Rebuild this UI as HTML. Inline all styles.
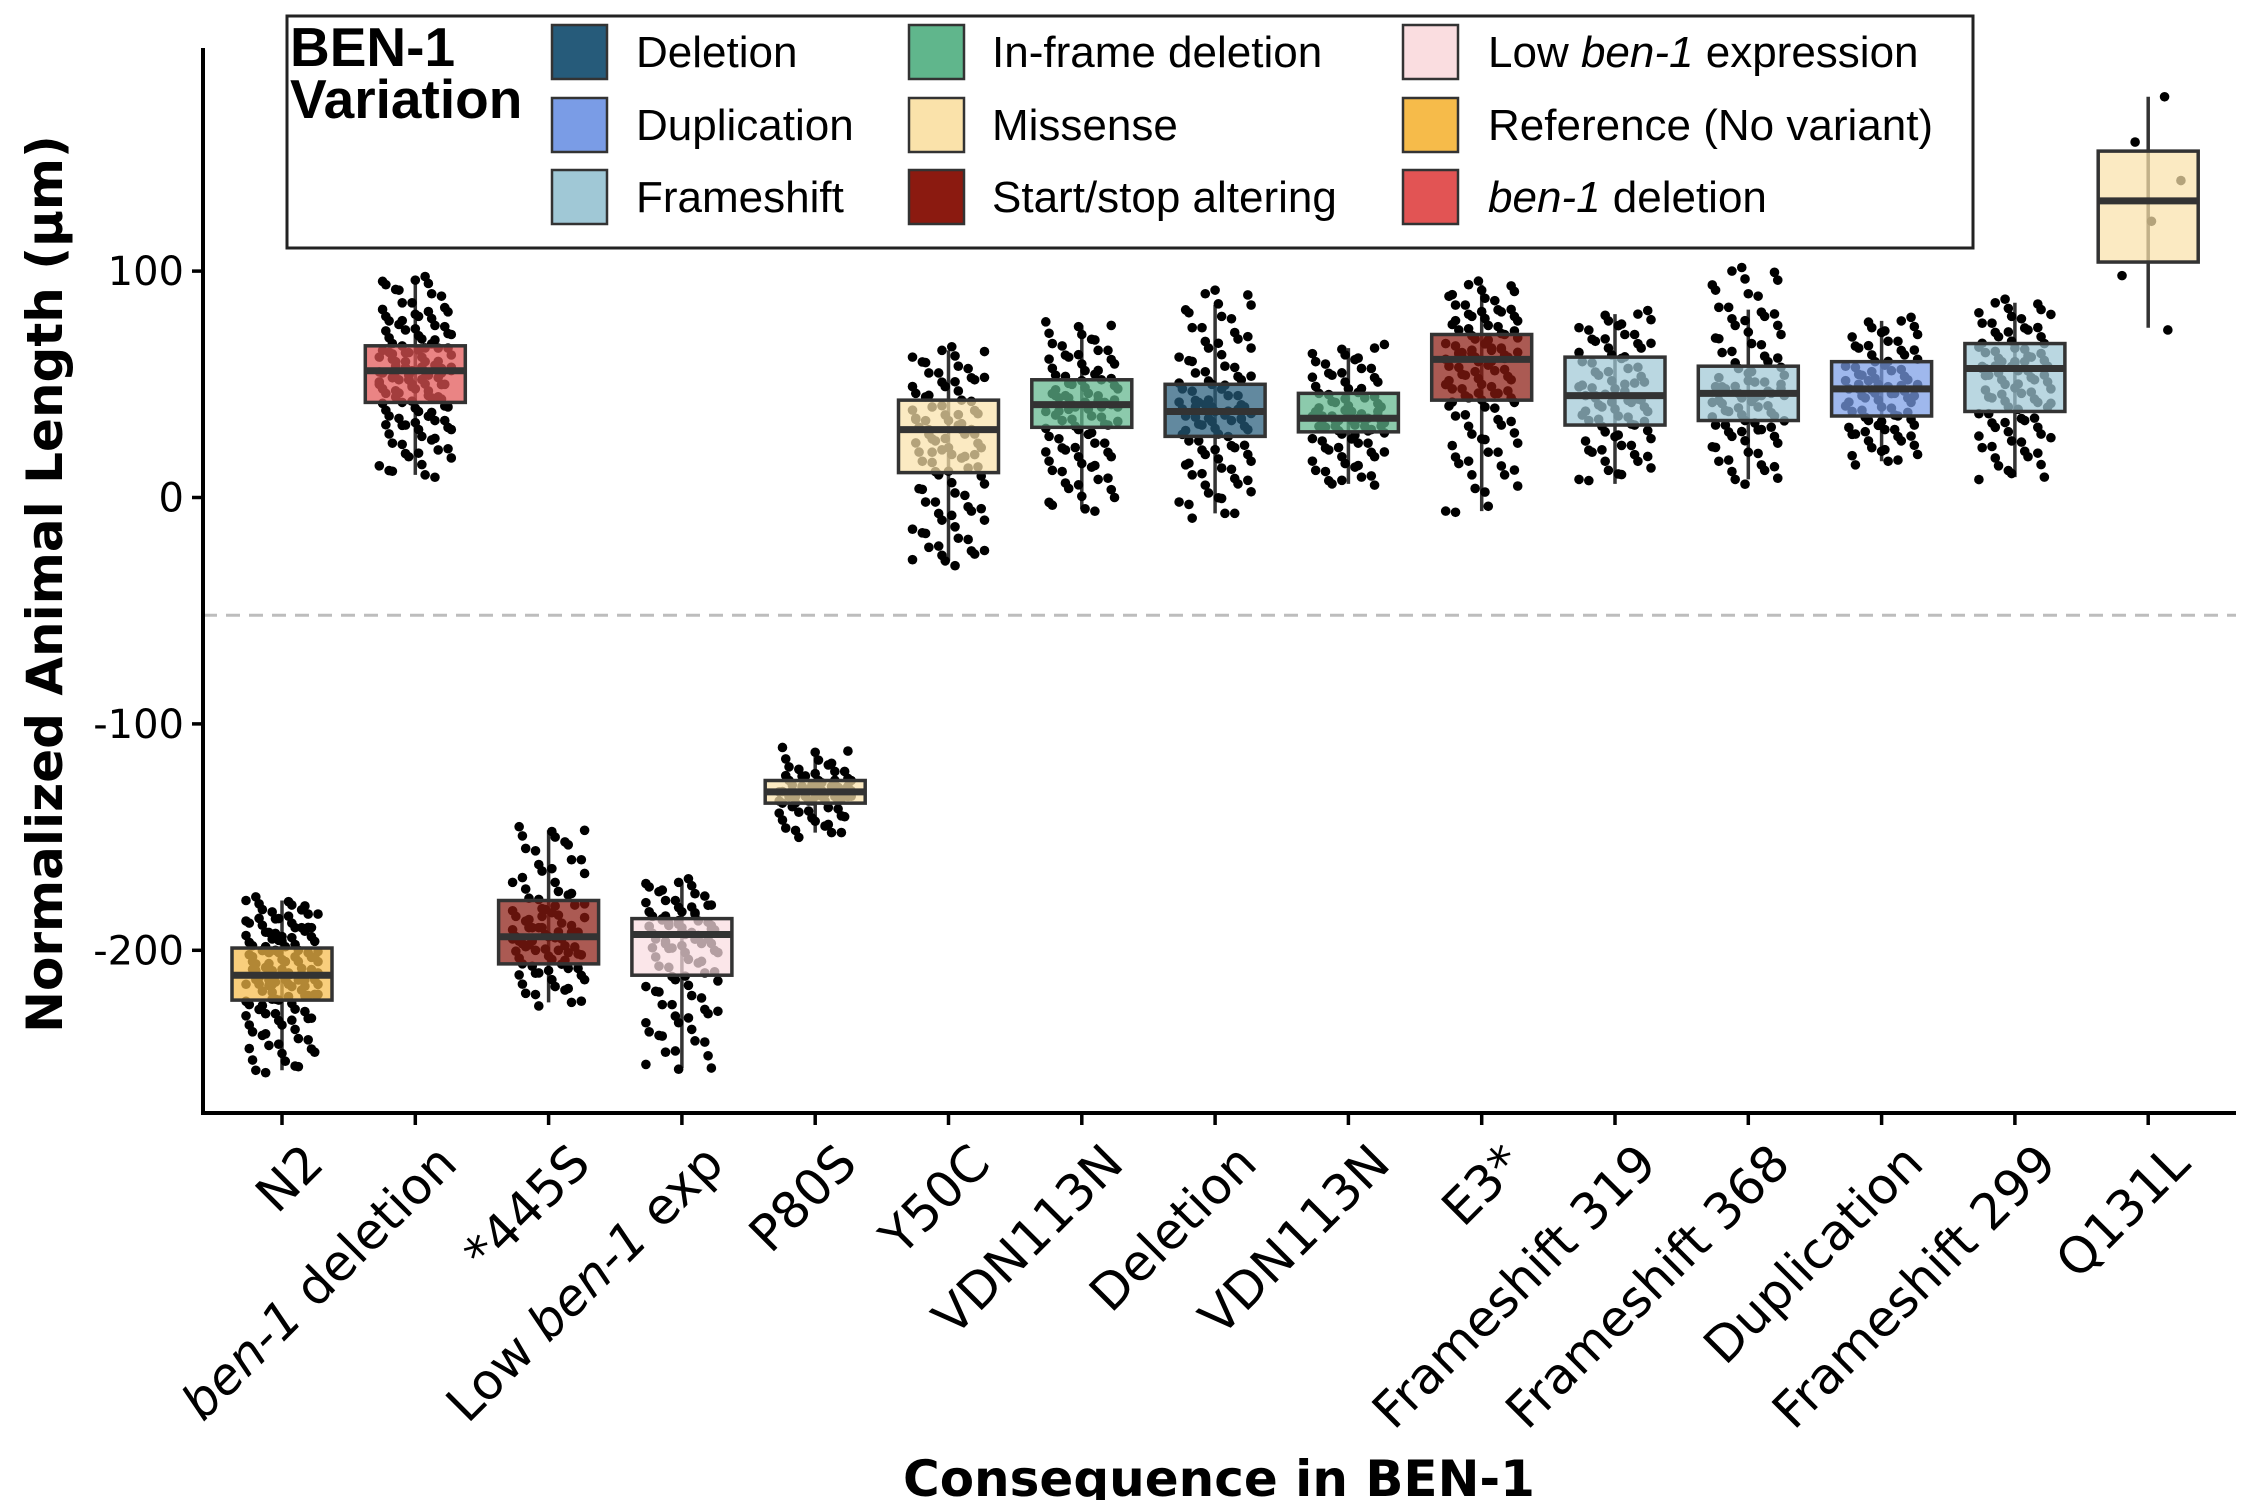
<!DOCTYPE html>
<html><head><meta charset="utf-8"><style>
html,body{margin:0;padding:0;background:#fff;}
svg{display:block;}
</style></head><body>
<svg id="chart" width="2250" height="1500" viewBox="0 0 2250 1500" xmlns="http://www.w3.org/2000/svg"></svg>
<script>
const categories = ["N2","ben-1 deletion","*445S","Low ben-1 exp","P80S","Y50C","VDN113N","Deletion","VDN113N","E3*","Frameshift 319","Frameshift 368","Duplication","Frameshift 299","Q131L"];
const variation = ["Reference","bendel","Start","Low","Missense","Missense","Inframe","Deletion","Inframe","Start","Frameshift","Frameshift","Duplication","Frameshift","Missense"];
const q1 = [-222,42,-206,-211,-135,11,31,27,29,43,32,34,36,38,104];
const median = [-211,56,-194,-193,-130,30,41,38,35,61,45,46,48,57,131];
const q3 = [-199,67,-178,-186,-125,43,52,50,46,72,62,58,60,68,153];
const whiskerLow = [-253,10,-223,-252,-148,-28,-5,-7,6,-6,6,8,16,9,75];
const whiskerHigh = [-178,96,-147,-170,-112,65,76,85,66,94,81,83,78,86,177];
const pts0 = [-178,-180,-182,-184,-186,-188,-190,-192,-194,-196,-198,-200,-201,-203,-205,-206,-208,-209,-210,-211,-212,-213,-214,-215,-216,-218,-220,-222,-224,-226,-228,-230,-233,-236,-239,-242,-245,-249,-253,-190,-195,-205,-210,-215,-220,-200];
const pts1 = [96,94,90,86,82,80,78,76,74,72,70,68,66,64,62,60,58,57,56,55,54,52,50,48,46,44,42,40,38,36,34,32,30,27,24,21,18,14,10,60,55,50,65,45];
const pts2 = [-147,-150,-155,-160,-165,-170,-174,-177,-180,-182,-185,-188,-190,-192,-194,-196,-198,-200,-202,-204,-206,-208,-210,-213,-216,-219,-223,-185,-195,-200,-190];
const pts3 = [-170,-172,-175,-178,-180,-183,-185,-187,-189,-191,-193,-195,-197,-199,-201,-204,-207,-210,-213,-216,-220,-224,-228,-232,-236,-240,-245,-252,-190,-185,-195,-188];
const pts4 = [-112,-116,-119,-121,-123,-125,-126,-127,-128,-129,-130,-131,-132,-133,-134,-135,-137,-139,-141,-143,-146,-148,-128,-132];
const pts5 = [65,62,58,55,52,49,46,43,40,37,34,31,28,25,22,19,16,13,10,6,2,-2,-6,-10,-14,-18,-22,-25,-28,35,30,20];
const pts6 = [76,72,68,65,62,59,56,54,52,50,48,46,44,42,40,38,36,34,32,30,27,24,21,18,15,12,8,4,0,-5,45,40];
const pts7 = [90,85,80,75,70,66,62,58,55,52,50,48,45,42,40,38,36,34,32,30,28,25,22,19,16,13,10,6,2,-2,-7,40,35];
const pts8 = [66,63,60,57,54,51,48,46,44,42,40,38,36,35,34,33,32,31,30,28,26,24,21,18,15,12,9,6,38,36];
const pts9 = [94,91,88,85,82,80,78,76,74,72,70,68,66,64,62,60,58,56,54,52,50,48,46,44,42,40,36,32,28,24,20,15,10,4,-6,65,62];
const pts10 = [81,78,75,72,69,66,63,60,57,54,51,48,45,42,40,38,36,34,32,29,26,23,20,16,12,8,50,44];
const pts11 = [100,96,90,84,80,76,72,68,64,60,57,54,51,48,46,44,42,40,38,36,34,32,30,27,24,20,16,12,8,50,45];
const pts12 = [78,75,72,69,66,63,60,58,56,54,52,50,48,46,44,42,40,38,36,34,32,30,28,25,22,19,16,50,47];
const pts13 = [86,83,80,77,74,71,68,66,64,62,60,58,56,54,52,50,48,46,44,42,40,37,34,31,28,25,22,18,14,9,60,57];
const pts14 = [177,157,140,122,98,74];
const points = [pts0,pts1,pts2,pts3,pts4,pts5,pts6,pts7,pts8,pts9,pts10,pts11,pts12,pts13,pts14];
const yTicks = [-200,-100,0,100];
const refLine = -52;

const NS="http://www.w3.org/2000/svg";
const svg=document.getElementById('chart');
function el(tag,attrs,parent){const e=document.createElementNS(NS,tag);for(const k in attrs)e.setAttribute(k,attrs[k]);(parent||svg).appendChild(e);return e;}
const yScale=v=>497.5-2.264*v;
const xScale=i=>282+133.3*i;
const HW=50;
const fills={Reference:"#F6BB4A",bendel:"#E25454",Start:"#8B1A10",Low:"#FADDE0",Missense:"#FAE2AA",Inframe:"#60B68C",Deletion:"#265B7A",Frameshift:"#A0C8D6",Duplication:"#7A9CE6"};

const dl=el('line',{x1:203,x2:2236,y1:yScale(refLine),y2:yScale(refLine),stroke:"#BDBDBD","stroke-width":3,"stroke-dasharray":"14,9"});



categories.forEach((c,i)=>{
  const g=el('g',{});
  
  
  const x=xScale(i);
  const w=el('line',{x1:x,x2:x,y1:yScale(whiskerHigh[i]),y2:yScale(whiskerLow[i]),stroke:"#333","stroke-width":3.5},g);
  
  
  const passes = points[i].length>10 ? 3 : 1;
  for(let pass=0;pass<passes;pass++){
    points[i].forEach((v,j)=>{
      const off=(((j*37+i*11+pass*13)%23)-11)/11*36;
      const dy=pass===0?0:((j*7+pass*5)%9-4)*1.2;
      const p=el('circle',{cx:x+off,cy:yScale(v)+dy,r:4.8,fill:"#000"},g);
      
      
    });
  }
  const b=el('rect',{x:x-HW,y:yScale(q3[i]),width:HW*2,height:yScale(q1[i])-yScale(q3[i]),fill:fills[variation[i]],"fill-opacity":0.72,stroke:"#333","stroke-width":3.5},g);
  
  
  const m=el('line',{x1:x-HW,x2:x+HW,y1:yScale(median[i]),y2:yScale(median[i]),stroke:"#333","stroke-width":7},g);
  
  
  const t=el('line',{x1:x,x2:x,y1:1113,y2:1125,stroke:"#000","stroke-width":3.5});
  
  
  const lab=el('text',{x:0,y:0,transform:`translate(${x+18},${1140}) rotate(-45)`,"text-anchor":"end","dominant-baseline":"hanging","font-family":"DejaVu Sans, sans-serif","font-size":50,fill:"#000"});
  
  
  if(c.includes('ben-1')){
    const parts=c.split('ben-1');
    if(parts[0]) el('tspan',{},lab).textContent=parts[0];
    el('tspan',{"font-style":"italic"},lab).textContent='ben-1';
    el('tspan',{},lab).textContent=parts[1];
  } else lab.textContent=c;
});

yTicks.forEach(v=>{
  const t=el('line',{x1:192,x2:203,y1:yScale(v),y2:yScale(v),stroke:"#000","stroke-width":3.5});
  
  
  const l=el('text',{x:184,y:yScale(v)+14,"text-anchor":"end","font-family":"DejaVu Sans, sans-serif","font-size":40});
  
  
  l.textContent=v;
});
</script>
<script>
(function(){
const NS="http://www.w3.org/2000/svg";const svg=document.getElementById('chart');
function el(tag,attrs,parent){const e=document.createElementNS(NS,tag);for(const k in attrs)e.setAttribute(k,attrs[k]);(parent||svg).appendChild(e);return e;}
const ya=el('line',{x1:203,x2:203,y1:48,y2:1115,stroke:"#000","stroke-width":4});


const xa=el('line',{x1:201,x2:2236,y1:1113,y2:1113,stroke:"#000","stroke-width":4});


const yt=el('text',{transform:"translate(62,584) rotate(-90)","text-anchor":"middle","font-family":"DejaVu Sans, sans-serif","font-weight":"bold","font-size":50});


yt.textContent="Normalized Animal Length (µm)";
const xt=el('text',{x:1219,y:1496,"text-anchor":"middle","font-family":"DejaVu Sans, sans-serif","font-weight":"bold","font-size":50});


xt.textContent="Consequence in BEN-1";
const lg=el('g',{});


el('rect',{x:287,y:16,width:1686,height:232,fill:"#fff",stroke:"#222","stroke-width":3},lg);
const tt=el('text',{x:290,y:66,"font-family":"Liberation Sans, sans-serif","font-weight":"bold","font-size":55},lg);


el('tspan',{x:290,y:66},tt).textContent="BEN-1";
el('tspan',{x:290,y:118},tt).textContent="Variation";
const entries=[["Deletion","#265B7A",552,636,25],["Duplication","#7A9CE6",552,636,98],["Frameshift","#A0C8D6",552,636,170],
["In-frame deletion","#60B68C",909,992,25],["Missense","#FAE2AA",909,992,98],["Start/stop altering","#8B1A10",909,992,170],
["Low |ben-1| expression","#FADDE0",1403,1488,25],["Reference (No variant)","#F6BB4A",1403,1488,98],["|ben-1| deletion","#E25454",1403,1488,170]];
entries.forEach(e=>{
  const g=el('g',{},lg);
  
  
  el('rect',{x:e[2],y:e[4],width:55,height:54,fill:e[1],stroke:"#333","stroke-width":2.5},g);
  const t=el('text',{x:e[3],y:e[4]+42,"font-family":"Liberation Sans, sans-serif","font-size":44},g);
  e[0].split('|').forEach((s,k)=>{ if(!s)return; const ts=el('tspan',k%2?{"font-style":"italic"}:{},t); ts.textContent=s;});
});
})();
</script>
</body></html>
